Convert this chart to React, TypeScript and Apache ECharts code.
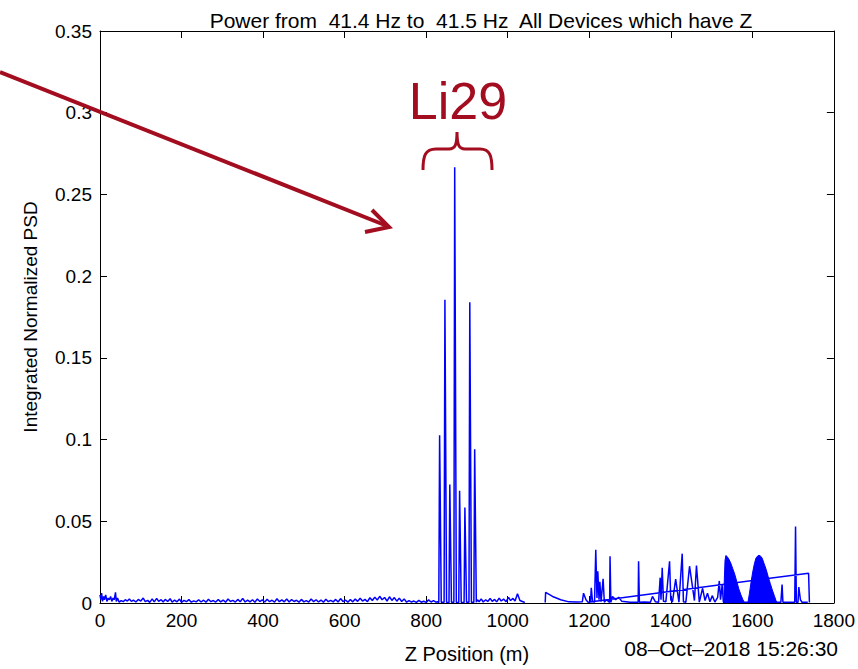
import React, { useEffect, useRef } from "react";
import * as echarts from "echarts";

const TITLE = "Power from  41.4 Hz to  41.5 Hz  All Devices which have Z";
const X_NAME = "Z Position (m)";
const Y_NAME = "Integrated Normalized PSD";
const DATE_TEXT = "08–Oct–2018 15:26:30";
const ANNOTATION = "Li29";

const xTicks = [0, 200, 400, 600, 800, 1000, 1200, 1400, 1600, 1800];
const yTicks = [0, 0.05, 0.1, 0.15, 0.2, 0.25, 0.3, 0.35];

// Low-level background, 0 – 830 m
const noiseZ = [0, 2, 4, 6, 9, 11, 14, 17, 20, 23, 26, 29, 32, 35, 38, 40, 43, 47, 52, 57, 62, 67, 72, 77, 82, 88, 94, 100, 106, 111, 117, 122, 128, 133, 139, 144, 150, 155, 160, 166, 172, 177, 183, 189, 195, 200, 206, 212, 218, 224, 230, 236, 242, 248, 254, 260, 266, 272, 278, 284, 290, 296, 302, 308, 314, 320, 326, 332, 338, 344, 350, 356, 362, 368, 374, 380, 386, 392, 398, 404, 410, 416, 422, 428, 434, 440, 446, 452, 458, 464, 470, 476, 482, 488, 494, 500, 506, 512, 518, 524, 530, 536, 542, 548, 554, 560, 566, 572, 578, 584, 590, 596, 602, 608, 614, 620, 626, 632, 638, 644, 650, 656, 662, 668, 674, 680, 686, 692, 698, 704, 710, 716, 722, 728, 734, 740, 746, 752, 758, 764, 770, 776, 782, 788, 794, 800, 806, 812, 818, 824, 828];
const noiseV = [0.005, 0.002, 0.006, 0.001, 0.004, 0.002, 0.005, 0.001, 0.003, 0.002, 0.004, 0.001, 0.003, 0.002, 0.0065, 0.001, 0.003, 0.0005, 0.0015, 0.0008, 0.002, 0.0012, 0.0025, 0.001, 0.0018, 0.0006, 0.0022, 0.0012, 0.003, 0.0008, 0.0016, 0.0004, 0.0025, 0.0007, 0.0028, 0.001, 0.002, 0.0006, 0.0022, 0.0009, 0.0026, 0.0005, 0.0018, 0.0007, 0.0024, 0.0004, 0.0016, 0.0008, 0.0021, 0.0005, 0.0013, 0.0007, 0.002, 0.0006, 0.0017, 0.0005, 0.0023, 0.0008, 0.0015, 0.0006, 0.0021, 0.0007, 0.0018, 0.0005, 0.0024, 0.0009, 0.0016, 0.0006, 0.0022, 0.0008, 0.0028, 0.0006, 0.0017, 0.0007, 0.002, 0.0005, 0.0025, 0.0009, 0.0019, 0.0006, 0.0023, 0.0008, 0.0017, 0.0005, 0.0026, 0.0008, 0.0019, 0.0007, 0.0024, 0.0006, 0.0021, 0.0009, 0.0017, 0.0005, 0.0022, 0.0007, 0.0015, 0.0006, 0.0025, 0.0008, 0.002, 0.0006, 0.0018, 0.0005, 0.0023, 0.0008, 0.0016, 0.0007, 0.0022, 0.0006, 0.0027, 0.0009, 0.0018, 0.0005, 0.0021, 0.0007, 0.0024, 0.001, 0.0029, 0.0012, 0.0022, 0.0008, 0.0032, 0.0015, 0.0036, 0.0018, 0.0041, 0.002, 0.0034, 0.0012, 0.0038, 0.0016, 0.0033, 0.0011, 0.003, 0.0009, 0.0025, 0.0005, 0.0015, 0.0006, 0.0012, 0.0004, 0.0016, 0.0005, 0.0011, 0.0004, 0.0019, 0.0006, 0.0014, 0.0005, 0.0008];

// Li29 spikes, 830 – 925 m
const li29Z = [831, 833, 837, 844, 846, 850, 856, 858, 862, 868, 870, 874, 880, 882, 886, 893, 895, 899, 905, 907, 911, 917, 919, 923];
const li29V = [0.0003, 0.1027, 0.0005, 0.0004, 0.1855, 0.0005, 0.0003, 0.0725, 0.0004, 0.0004, 0.2666, 0.0005, 0.0003, 0.0687, 0.0004, 0.0003, 0.0585, 0.0005, 0.0004, 0.184, 0.0005, 0.0004, 0.094, 0.0005];

// After Li29, 925 – 1042 m
const postZ = [926, 930, 935, 940, 946, 951, 957, 962, 968, 973, 979, 984, 990, 996, 1002, 1007, 1013, 1018, 1024, 1030, 1036, 1042];
const postV = [0.002, 0.0008, 0.0025, 0.0006, 0.002, 0.0009, 0.0028, 0.001, 0.0022, 0.0007, 0.003, 0.0012, 0.0024, 0.0008, 0.0035, 0.0015, 0.0028, 0.0012, 0.0057, 0.0015, 0.0009, 0.0003];

// 1090 – 1200 m, ending with the long return line to 1738 m
const midZ = [1092, 1093, 1110, 1130, 1150, 1170, 1183, 1186, 1192, 1197, 1738, 1740];
const midV = [0.0003, 0.0065, 0.004, 0.002, 0.0007, 0.0006, 0.0007, 0.006, 0.002, 0.0005, 0.0182, 0.0003];

// 1200 – 1740 m
const farZ = [1203, 1205, 1208, 1213, 1216, 1219, 1221, 1224, 1226, 1229, 1234, 1237, 1242, 1250, 1251, 1253, 1257, 1265, 1272, 1280, 1290, 1300, 1310, 1320, 1321, 1323, 1335, 1350, 1355, 1362, 1370, 1374, 1376, 1379, 1382, 1388, 1397, 1400, 1404, 1412, 1420, 1428, 1431, 1437, 1446, 1458, 1463, 1470, 1478, 1484, 1490, 1496, 1502, 1508, 1515, 1519, 1522, 1526, 1529, 1585, 1590, 1662, 1670, 1673, 1675, 1690, 1704, 1706, 1708, 1712, 1714, 1718, 1722, 1736];
const farV = [0.0005, 0.0093, 0.001, 0.0005, 0.0326, 0.003, 0.0194, 0.002, 0.013, 0.0008, 0.0148, 0.0005, 0.002, 0.0004, 0.0286, 0.0005, 0.004, 0.002, 0.0035, 0.001, 0.0008, 0.0005, 0.0004, 0.0004, 0.0255, 0.0005, 0.0006, 0.0005, 0.004, 0.0008, 0.0005, 0.0155, 0.002, 0.0215, 0.001, 0.0008, 0.0255, 0.002, 0.0005, 0.0146, 0.0005, 0.0302, 0.0008, 0.0005, 0.0225, 0.0015, 0.0229, 0.0005, 0.009, 0.0015, 0.006, 0.0008, 0.0045, 0.0006, 0.0035, 0.0135, 0.002, 0.011, 0.0005, 0.0005, 0.0004, 0.0005, 0.0004, 0.0113, 0.0005, 0.0004, 0.0004, 0.0468, 0.0005, 0.0004, 0.0097, 0.002, 0.0004, 0.0004];

// Dense oscillating envelopes (drawn filled)
const hump1Z = [1530, 1531, 1533, 1535, 1538, 1542, 1547, 1552, 1557, 1562, 1567, 1572, 1577, 1581];
const hump1V = [0, 0.012, 0.026, 0.029, 0.0285, 0.027, 0.0245, 0.021, 0.0175, 0.013, 0.0085, 0.005, 0.002, 0];
const hump2Z = [1589, 1593, 1597, 1601, 1605, 1609, 1614, 1619, 1624, 1629, 1634, 1639, 1644, 1649, 1654, 1658, 1661];
const hump2V = [0, 0.006, 0.013, 0.019, 0.024, 0.0275, 0.029, 0.029, 0.0275, 0.024, 0.0205, 0.016, 0.012, 0.008, 0.0045, 0.0015, 0];

const BLUE = "#0000ff";
const RED = "#a30d20";
const FONT = "'Liberation Sans', Arial, Helvetica, sans-serif";

const zip = (zs: number[], vs: number[]) => zs.map((z, i) => [z, vs[i]]);

const BRACE_D =
  "M423,170 C423,156 425,149 436,149 L449,149 C455,149 457,145 457,132 C457,145 459,149 465,149 L480,149 C490,149 492,156 492,170";

export default function App() {
  const ref = useRef<HTMLDivElement>(null);
  useEffect(() => {
    if (!ref.current) return;
    try {
      echarts.graphic.registerShape("brace", echarts.graphic.extendPath(BRACE_D, {}));
    } catch (e) {}
    const chart = echarts.init(ref.current, null, { renderer: "svg" });
    const mainData: any[] = [
      ...zip(noiseZ, noiseV),
      ...zip(li29Z, li29V),
      ...zip(postZ, postV),
      null,
      ...zip(midZ, midV),
      null,
      ...zip(farZ, farV),
    ];
    const humpData: any[] = [...zip(hump1Z, hump1V), null, ...zip(hump2Z, hump2V)];
    const fmtY = (v: number) => String(+v.toFixed(2));
    const fmtX = (v: number) => String(Math.round(v));
    const axisCommon = {
      type: "value",
      axisLine: { show: true, onZero: false, lineStyle: { color: "#000", width: 1 } },
      axisTick: { show: true, inside: true, length: 7, lineStyle: { color: "#000", width: 1 } },
      splitLine: { show: false },
    };
    chart.setOption({
      animation: false,
      backgroundColor: "#ffffff",
      title: {
        text: TITLE,
        left: 476,
        top: 5,
        textAlign: "center",
        textStyle: { fontFamily: FONT, fontSize: 21, fontWeight: "normal", color: "#000" },
      },
      grid: { left: 100, right: 21, top: 31, bottom: 62, containLabel: false },
      xAxis: [
        {
          ...axisCommon,
          position: "bottom",
          min: xTicks[0],
          max: xTicks[xTicks.length - 1],
          interval: xTicks[1] - xTicks[0],
          name: X_NAME,
          nameLocation: "middle",
          nameGap: 41,
          nameTextStyle: { fontFamily: FONT, fontSize: 20, color: "#000" },
          axisLabel: { fontFamily: FONT, fontSize: 19, color: "#000", margin: 8, formatter: fmtX },
        },
        {
          ...axisCommon,
          position: "top",
          min: xTicks[0],
          max: xTicks[xTicks.length - 1],
          interval: xTicks[1] - xTicks[0],
          axisLabel: { show: false },
        },
      ],
      yAxis: [
        {
          ...axisCommon,
          position: "left",
          min: yTicks[0],
          max: yTicks[yTicks.length - 1],
          interval: 0.05,
          name: Y_NAME,
          nameLocation: "middle",
          nameGap: 60,
          nameTextStyle: { fontFamily: FONT, fontSize: 19, color: "#000" },
          axisLabel: { fontFamily: FONT, fontSize: 19, color: "#000", margin: 8, formatter: fmtY },
        },
        {
          ...axisCommon,
          position: "right",
          min: yTicks[0],
          max: yTicks[yTicks.length - 1],
          interval: 0.05,
          axisLabel: { show: false },
        },
      ],
      series: [
        {
          type: "line",
          data: mainData,
          showSymbol: false,
          symbol: "none",
          connectNulls: false,
          lineStyle: { color: BLUE, width: 1.5 },
          itemStyle: { color: BLUE },
          z: 3,
        },
        {
          type: "line",
          data: humpData,
          showSymbol: false,
          symbol: "none",
          connectNulls: false,
          lineStyle: { color: BLUE, width: 1 },
          itemStyle: { color: BLUE },
          areaStyle: { color: BLUE, opacity: 1 },
          z: 3,
        },
      ],
      graphic: [
        {
          type: "text",
          x: 838,
          y: 648,
          style: {
            text: DATE_TEXT,
            fontFamily: FONT,
            fontSize: 21,
            fill: "#000",
            textAlign: "right",
            textVerticalAlign: "middle",
          },
        },
        {
          type: "line",
          shape: { x1: 0, y1: 72, x2: 386, y2: 225.5 },
          style: { stroke: RED, lineWidth: 4 },
          z: 100,
        },
        {
          type: "polyline",
          shape: { points: [[372, 210], [389, 227], [365, 232]] },
          style: { stroke: RED, lineWidth: 4, fill: null },
          z: 100,
        },
        {
          type: "brace",
          x: 0,
          y: 0,
          style: { stroke: RED, lineWidth: 3, fill: null },
          z: 100,
        },
        {
          type: "text",
          x: 458,
          y: 101,
          style: {
            text: ANNOTATION,
            fontFamily: FONT,
            fontSize: 52,
            fill: RED,
            textAlign: "center",
            textVerticalAlign: "middle",
          },
          z: 100,
        },
      ],
    });
    return () => chart.dispose();
  }, []);
  return (
    <div
      ref={ref}
      style={{ position: "fixed", left: 0, top: 0, width: 858, height: 669, background: "#fff" }}
    />
  );
}
